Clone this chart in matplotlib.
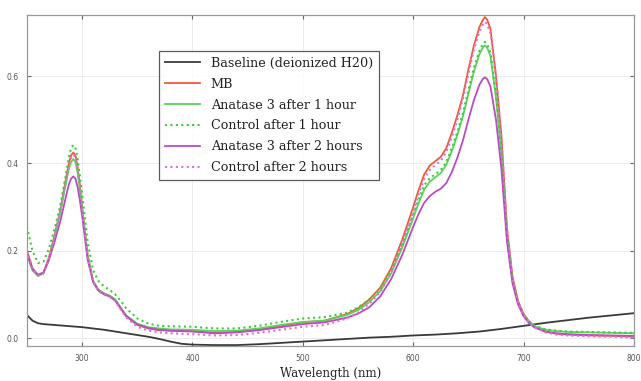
import matplotlib
matplotlib.use("Agg")
import matplotlib.pyplot as plt

wl = [250, 255, 260, 265, 270, 275, 280, 285, 288, 290, 292, 294, 296, 298, 300, 305, 310, 315, 320, 325, 330, 335, 340,
      350, 360, 370, 380, 400, 420, 440, 460, 480, 500, 520, 540, 550, 560, 570, 580, 590, 600, 605, 610,
      615, 620, 625, 630, 635, 640, 645, 650, 655, 660, 663, 665, 667, 670, 675, 680, 685, 690, 695, 700, 705, 710,
      720, 730, 740, 760, 780, 800]

mb = [0.20, 0.16, 0.144, 0.15, 0.185, 0.235, 0.29, 0.36, 0.40, 0.418, 0.425, 0.418, 0.39, 0.35, 0.30, 0.19, 0.13, 0.11, 0.102, 0.097, 0.088, 0.068, 0.05,
      0.03, 0.022, 0.018, 0.017, 0.016, 0.012, 0.014, 0.02, 0.028, 0.036, 0.040, 0.055, 0.068, 0.088, 0.115, 0.16, 0.225, 0.30, 0.34, 0.375,
      0.395, 0.405, 0.415, 0.435, 0.47, 0.51, 0.555, 0.615, 0.67, 0.712, 0.728, 0.735, 0.729, 0.708, 0.60, 0.46, 0.25, 0.14, 0.085, 0.055, 0.038, 0.026,
      0.014, 0.01, 0.008, 0.006, 0.005, 0.003]

anatase_1h = [0.19, 0.155, 0.142, 0.148, 0.18, 0.23, 0.285, 0.35, 0.387, 0.403, 0.41, 0.403, 0.377, 0.34, 0.295, 0.19, 0.13, 0.11, 0.102, 0.097, 0.088, 0.07, 0.052,
              0.033, 0.025, 0.022, 0.02, 0.019, 0.016, 0.017, 0.022, 0.03, 0.037, 0.04, 0.053, 0.064, 0.082, 0.107, 0.148, 0.207, 0.275, 0.31, 0.34,
              0.358, 0.368, 0.378, 0.397, 0.428, 0.465, 0.507, 0.56, 0.61, 0.65, 0.665, 0.67, 0.665, 0.646, 0.55, 0.42, 0.23, 0.13, 0.08, 0.052, 0.037, 0.027,
              0.019, 0.016, 0.014, 0.013, 0.012, 0.011]

control_1h = [0.255, 0.20, 0.172, 0.175, 0.205, 0.25, 0.30, 0.37, 0.415, 0.435, 0.442, 0.435, 0.41, 0.37, 0.33, 0.22, 0.155, 0.13, 0.118, 0.11, 0.10, 0.085, 0.068,
              0.045, 0.033, 0.028, 0.027, 0.026, 0.022, 0.022, 0.028, 0.037, 0.045, 0.048, 0.058, 0.07, 0.088, 0.113, 0.155, 0.215, 0.283, 0.318, 0.35,
              0.366, 0.375, 0.385, 0.403, 0.435, 0.472, 0.515, 0.567, 0.62, 0.658, 0.673, 0.678, 0.673, 0.654, 0.56, 0.425, 0.235, 0.132, 0.082, 0.054, 0.038, 0.028,
              0.02, 0.017, 0.015, 0.014, 0.013, 0.012]

anatase_2h = [0.195, 0.158, 0.145, 0.15, 0.18, 0.22, 0.265, 0.32, 0.352, 0.365, 0.37, 0.365, 0.345, 0.315, 0.28, 0.18, 0.128, 0.108, 0.10, 0.095, 0.086, 0.068, 0.05,
              0.031, 0.023, 0.019, 0.017, 0.015, 0.011, 0.013, 0.018, 0.025, 0.032, 0.036, 0.047, 0.056, 0.07, 0.095, 0.135, 0.19, 0.255, 0.285, 0.31,
              0.325, 0.335, 0.342, 0.355, 0.38, 0.413, 0.452, 0.50, 0.545, 0.58, 0.593, 0.597, 0.593, 0.576, 0.50, 0.385, 0.22, 0.125, 0.077, 0.05, 0.034, 0.024,
              0.015, 0.011, 0.009, 0.007, 0.006, 0.005]

control_2h = [0.20, 0.16, 0.143, 0.148, 0.182, 0.232, 0.287, 0.355, 0.395, 0.413, 0.42, 0.413, 0.386, 0.347, 0.297, 0.185, 0.127, 0.107, 0.099, 0.094, 0.085, 0.065, 0.047,
              0.026, 0.017, 0.013, 0.011, 0.009, 0.006, 0.007, 0.012, 0.019, 0.026, 0.03, 0.045, 0.058, 0.078, 0.105, 0.15, 0.215, 0.29, 0.33, 0.365,
              0.385, 0.396, 0.406, 0.426, 0.46, 0.50, 0.548, 0.605, 0.66, 0.702, 0.718, 0.724, 0.719, 0.698, 0.60, 0.455, 0.248, 0.137, 0.082, 0.052, 0.035, 0.024,
              0.013, 0.008, 0.006, 0.004, 0.003, 0.001]

wl_base = [250, 255, 260, 265, 270, 280, 290, 300, 310, 320, 330, 340, 350, 360, 370, 380, 390, 400, 420, 440,
           460, 480, 500, 520, 540, 560, 580, 600, 620, 640, 660, 680, 700, 720, 740, 760, 780, 800]
baseline = [0.053, 0.04, 0.034, 0.032, 0.031, 0.029, 0.027, 0.025, 0.022, 0.019, 0.015, 0.011, 0.007, 0.003, -0.002, -0.008, -0.013, -0.015, -0.016, -0.016,
            -0.014, -0.011, -0.008, -0.005, -0.002, 0.001, 0.003, 0.006, 0.008, 0.011, 0.015, 0.021, 0.028, 0.035, 0.041, 0.047, 0.052, 0.057]

labels = ["Baseline (deionized H20)", "MB", "Anatase 3 after 1 hour", "Control after 1 hour",
          "Anatase 3 after 2 hours", "Control after 2 hours"]
xticks = [300, 400, 500, 600, 700, 800]
yticks = [0.0, 0.2, 0.4, 0.6]

fig = plt.figure(figsize=(6.41, 3.81), dpi=100)
ax = fig.add_axes([0.042, 0.092, 0.947, 0.869])

dot = (0, (1, 1.6))
ax.plot(wl_base, baseline, color="#3a3a3a", lw=1.3, label=labels[0])
ax.plot(wl, mb, color="#ee5a3c", lw=1.3, label=labels[1])
ax.plot(wl, anatase_1h, color="#5cd15c", lw=1.3, label=labels[2])
ax.plot(wl, control_1h, color="#3ccc3c", lw=1.5, ls=dot, label=labels[3])
ax.plot(wl, anatase_2h, color="#b94cc0", lw=1.3, label=labels[4])
ax.plot(wl, control_2h, color="#e070d0", lw=1.5, ls=dot, label=labels[5])

ax.set_xlim(250, 800)
ax.set_ylim(-0.018, 0.74)
ax.set_xticks(xticks)
ax.set_yticks(yticks)
ax.set_xticklabels([str(t) for t in xticks])
ax.set_yticklabels([f"{t:.1f}" for t in yticks])
ax.tick_params(direction="in", top=True, right=True, length=3, width=0.8,
               color="#666666", labelsize=5.5, labelcolor="#555555", pad=6)
ax.grid(True, color="#ececec", lw=0.7)
for s in ax.spines.values():
    s.set_color("#999999")
    s.set_linewidth(0.9)

ax.set_xlabel("Wavelength (nm)", family="DejaVu Serif", fontsize=8.5, color="#222222", labelpad=3)

leg = ax.legend(loc="upper left", bbox_to_anchor=(0.2175, 0.891), borderaxespad=0,
                prop={"family": "DejaVu Serif", "size": 9.2}, frameon=True, fancybox=False,
                edgecolor="#333333", labelspacing=0.62, handlelength=2.8, handletextpad=0.8,
                borderpad=0.45)
leg.get_frame().set_linewidth(0.9)
for t in leg.get_texts():
    t.set_color("#222222")

fig.savefig("out.png", dpi=100)
